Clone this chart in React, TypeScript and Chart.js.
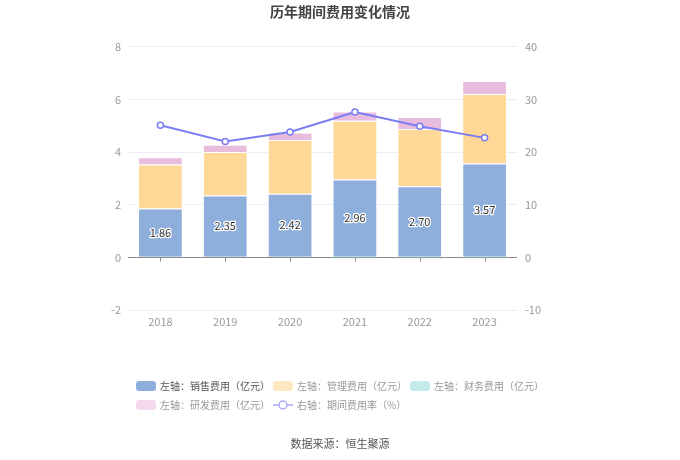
import React, { useEffect, useRef } from "react";
import { Chart, registerables } from "chart.js";

Chart.register(...registerables);

const years = ["2018", "2019", "2020", "2021", "2022", "2023"];
const salesExp = [1.86, 2.35, 2.42, 2.96, 2.7, 3.57];
const adminExp = [1.67, 1.65, 2.04, 2.23, 2.18, 2.64];
const financeExp = [0.0, 0.0, 0.0, -0.03, -0.03, -0.03];
const rdExp = [0.27, 0.28, 0.28, 0.35, 0.45, 0.49];
const expenseRate = [25.1, 22.0, 23.8, 27.6, 24.9, 22.7];

const leftTicks = { min: -2, max: 8, step: 2 };
const rightTicks = { min: -10, max: 40, step: 10 };

const titleText = "历年期间费用变化情况";
const sourceText = "数据来源：恒生聚源";

const FONT = "'Noto Sans CJK SC', 'Noto Sans', sans-serif";

type LegendEntry = { label: string; color: string; textColor: string; kind: "box" | "line" };

const legendEntries: LegendEntry[] = [
  { label: "左轴：销售费用（亿元）", color: "#8eaedb", textColor: "#555", kind: "box" },
  { label: "左轴：管理费用（亿元）", color: "#ffe8c4", textColor: "#999", kind: "box" },
  { label: "左轴：财务费用（亿元）", color: "#c3ecec", textColor: "#999", kind: "box" },
  { label: "左轴：研发费用（亿元）", color: "#f5d9ec", textColor: "#999", kind: "box" },
  { label: "右轴：期间费用率（%）", color: "#a9aaf5", textColor: "#999", kind: "line" },
];

function roundRect(ctx: CanvasRenderingContext2D, x: number, y: number, w: number, h: number, r: number) {
  ctx.beginPath();
  ctx.moveTo(x + r, y);
  ctx.lineTo(x + w - r, y);
  ctx.quadraticCurveTo(x + w, y, x + w, y + r);
  ctx.lineTo(x + w, y + h - r);
  ctx.quadraticCurveTo(x + w, y + h, x + w - r, y + h);
  ctx.lineTo(x + r, y + h);
  ctx.quadraticCurveTo(x, y + h, x, y + h - r);
  ctx.lineTo(x, y + r);
  ctx.quadraticCurveTo(x, y, x + r, y);
  ctx.closePath();
}

const zeroLinePlugin = {
  id: "zeroLine",
  beforeDatasetsDraw(chart: any) {
    const { ctx, chartArea, scales } = chart;
    const y0 = Math.round(scales.y.getPixelForValue(0)) + 0.5;
    ctx.save();
    ctx.strokeStyle = "#8a8a8a";
    ctx.lineWidth = 1;
    ctx.beginPath();
    ctx.moveTo(chartArea.left, y0);
    ctx.lineTo(chartArea.right, y0);
    years.forEach((_, i) => {
      const x = Math.round(scales.x.getPixelForValue(i)) + 0.5;
      ctx.moveTo(x, y0);
      ctx.lineTo(x, y0 + 4);
    });
    ctx.stroke();
    ctx.restore();
  },
};

const overlayPlugin = {
  id: "overlay",
  afterDatasetsDraw(chart: any) {
    const { ctx } = chart;
    const meta = chart.getDatasetMeta(0);
    ctx.save();
    ctx.font = `11px ${FONT}`;
    ctx.textAlign = "center";
    ctx.textBaseline = "middle";
    meta.data.forEach((el: any, i: number) => {
      const cy = (el.y + el.base) / 2;
      const txt = salesExp[i].toFixed(2);
      ctx.lineWidth = 2.5;
      ctx.strokeStyle = "#ffffff";
      ctx.lineJoin = "round";
      ctx.strokeText(txt, el.x, cy);
      ctx.fillStyle = "#333";
      ctx.fillText(txt, el.x, cy);
    });
    ctx.restore();
  },
  afterDraw(chart: any) {
    const { ctx, width, chartArea } = chart;
    ctx.save();
    ctx.font = `10px ${FONT}`;
    ctx.textBaseline = "middle";
    const boxW = 20;
    const boxH = 10;
    const textGap = 4;
    const itemGap = 3;
    const perRow = 3;
    const widths = legendEntries.map((e) => boxW + textGap + ctx.measureText(e.label).width);
    const row1 = widths.slice(0, perRow).reduce((a, b) => a + b, 0) + itemGap * (perRow - 1);
    const startX = (width - row1) / 2;
    const row1Y = chartArea.bottom + 76;
    const rowH = 19;
    legendEntries.forEach((e, i) => {
      const row = Math.floor(i / perRow);
      const col = i % perRow;
      let x = startX;
      for (let k = row * perRow; k < row * perRow + col; k++) x += widths[k] + itemGap;
      const y = row1Y + row * rowH;
      if (e.kind === "box") {
        ctx.fillStyle = e.color;
        roundRect(ctx, x, y - boxH / 2, boxW, boxH, 3);
        ctx.fill();
      } else {
        ctx.strokeStyle = e.color;
        ctx.lineWidth = 1.5;
        ctx.beginPath();
        ctx.moveTo(x, y);
        ctx.lineTo(x + boxW, y);
        ctx.stroke();
        ctx.beginPath();
        ctx.arc(x + boxW / 2, y, 4, 0, Math.PI * 2);
        ctx.fillStyle = "#fff";
        ctx.fill();
        ctx.stroke();
      }
      ctx.fillStyle = e.textColor;
      ctx.textAlign = "left";
      ctx.fillText(e.label, x + boxW + textGap, y);
    });
    ctx.font = `11px ${FONT}`;
    ctx.fillStyle = "#555";
    ctx.textAlign = "center";
    ctx.fillText(sourceText, width / 2, chartArea.bottom + 134);
    ctx.restore();
  },
};

export default function App() {
  const ref = useRef<HTMLCanvasElement | null>(null);
  useEffect(() => {
    if (!ref.current) return;
    Chart.defaults.font.family = FONT;
    const chart = new Chart(ref.current, {
      type: "bar",
      data: {
        labels: years,
        datasets: [
          { label: "销售费用", data: salesExp, backgroundColor: "#8eaedb", borderColor: "#ffffff", borderWidth: { left: 1, right: 1, top: 1, bottom: 0 } as any, yAxisID: "y", order: 1, barPercentage: 0.69, categoryPercentage: 1 },
          { label: "管理费用", data: adminExp, backgroundColor: "#ffd898", borderColor: "#ffffff", borderWidth: { left: 1, right: 1, top: 1, bottom: 0 } as any, yAxisID: "y", order: 1, barPercentage: 0.69, categoryPercentage: 1 },
          { label: "财务费用", data: financeExp, backgroundColor: "#a0e1e3", yAxisID: "y", order: 1, barPercentage: 0.69, categoryPercentage: 1 },
          { label: "研发费用", data: rdExp, backgroundColor: "#e8bcdd", borderColor: "#ffffff", borderWidth: { left: 1, right: 1, top: 1, bottom: 0 } as any, yAxisID: "y", order: 1, barPercentage: 0.69, categoryPercentage: 1 },
          {
            type: "line" as any,
            label: "期间费用率",
            data: expenseRate,
            yAxisID: "y1",
            borderColor: "#7b7df2",
            borderWidth: 2,
            pointRadius: 3,
            pointBorderWidth: 1.5,
            pointBackgroundColor: "#ffffff",
            pointBorderColor: "#7b7df2",
            tension: 0,
            order: 0,
          } as any,
        ],
      },
      options: {
        responsive: false,
        animation: false,
        layout: { padding: 0 },
        plugins: {
          legend: { display: false },
          tooltip: { enabled: false },
          title: {
            display: true,
            text: titleText,
            color: "#444",
            font: { size: 14, weight: "bold", family: FONT },
            padding: { top: 3, bottom: 27 },
          },
        },
        scales: {
          x: {
            stacked: true,
            grid: { display: false, drawTicks: false },
            border: { display: false },
            ticks: { color: "#999", font: { size: 11 }, padding: 5 },
            afterFit(scale: any) {
              scale.height = 150;
            },
          },
          y: {
            stacked: true,
            position: "left",
            min: leftTicks.min,
            max: leftTicks.max,
            ticks: { stepSize: leftTicks.step, color: "#999", font: { size: 11 }, padding: 7 },
            grid: {
              drawTicks: false,
              color: (c: any) => (c.tick && c.tick.value === 0 ? "rgba(0,0,0,0)" : "#eceef6"),
            },
            border: { display: false },
            afterFit(scale: any) {
              scale.width = 128;
            },
          },
          y1: {
            position: "right",
            min: rightTicks.min,
            max: rightTicks.max,
            ticks: { stepSize: rightTicks.step, color: "#999", font: { size: 11 }, padding: 8 },
            grid: { display: false, drawTicks: false },
            border: { display: false },
            afterFit(scale: any) {
              scale.width = 163;
            },
          },
        },
      },
      plugins: [zeroLinePlugin, overlayPlugin],
    });
    return () => chart.destroy();
  }, []);
  return (
    <div style={{ position: "absolute", left: 0, top: 0, width: 680, height: 460, background: "#fff" }}>
      <canvas ref={ref} width={680} height={460} style={{ width: 680, height: 460 }} />
    </div>
  );
}
